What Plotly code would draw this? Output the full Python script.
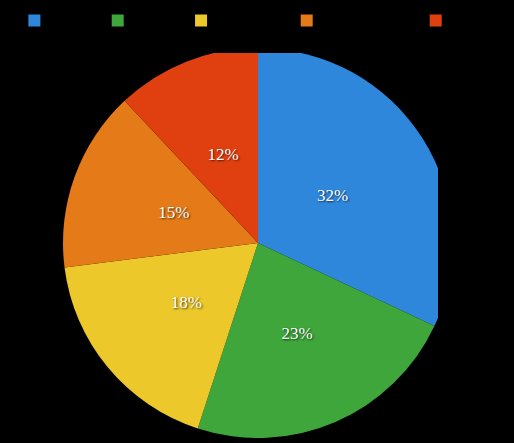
import plotly.graph_objects as go

categories = ["Series 1", "Series 2", "Series 3 (ex)", "Series 4 (longest)", "Series 5"]
values = [32, 23, 18, 15, 12]
colors = ["#2f87dc", "#3ea63a", "#ecc82a", "#e47a18", "#e0400f"]

cx, cy = 258, 243  # pie centre in px
R = 195            # pie radius in px
W, H = 514, 443

def dom(rad):
    return dict(x=[(cx - rad) / W, (cx + rad) / W],
                y=[(H - cy - rad) / H, (H - cy + rad) / H])

fig = go.Figure()
fig.add_trace(go.Pie(
    labels=categories,
    values=values,
    sort=False,
    direction="clockwise",
    rotation=0,
    marker=dict(colors=colors, line=dict(width=0)),
    textinfo="none",
    domain=dom(R),
    hoverinfo="label+percent",
))

# text-carrying transparent overlay pies (same data), to place labels nearer the centre
label_font = dict(family="Liberation Serif", size=17, color="white",
                  shadow="1px 1px 2px rgba(0,0,0,0.7)")
for rad, show in [(130, [False, False, False, True, True]),
                  (143, [False, False, True, False, False]),
                  (163, [True, True, False, False, False])]:
    fig.add_trace(go.Pie(
        labels=categories,
        values=values,
        sort=False,
        direction="clockwise",
        rotation=0,
        marker=dict(colors=["rgba(0,0,0,0)"] * len(values), line=dict(width=0)),
        texttemplate=["%{percent:.0%}" if s else "" for s in show],
        textposition="inside",
        insidetextorientation="horizontal",
        textfont=label_font,
        domain=dom(rad),
        showlegend=False,
        hoverinfo="skip",
    ))

fig.update_layout(
    width=W, height=H,
    margin=dict(l=0, r=0, t=0, b=0),
    paper_bgcolor="black",
    plot_bgcolor="black",
    showlegend=True,
    legend=dict(orientation="h", x=0.028, y=1.0 - 6 / H, xanchor="left", yanchor="top",
                font=dict(color="black", size=12, family="Liberation Serif"),
                bgcolor="rgba(0,0,0,0)"),
    shapes=[
        dict(type="rect", xref="paper", yref="paper", x0=0, x1=1,
             y0=(H - 53) / H, y1=(H - 40) / H, fillcolor="black",
             line=dict(width=0), layer="above"),
        dict(type="rect", xref="paper", yref="paper", x0=438 / W, x1=1,
             y0=0, y1=1, fillcolor="black", line=dict(width=0), layer="above"),
    ],
)

fig.write_html("out.html",
               config={"displayModeBar": False},
               post_script="document.body.style.margin='0';"
                           "document.body.style.background='black';")
